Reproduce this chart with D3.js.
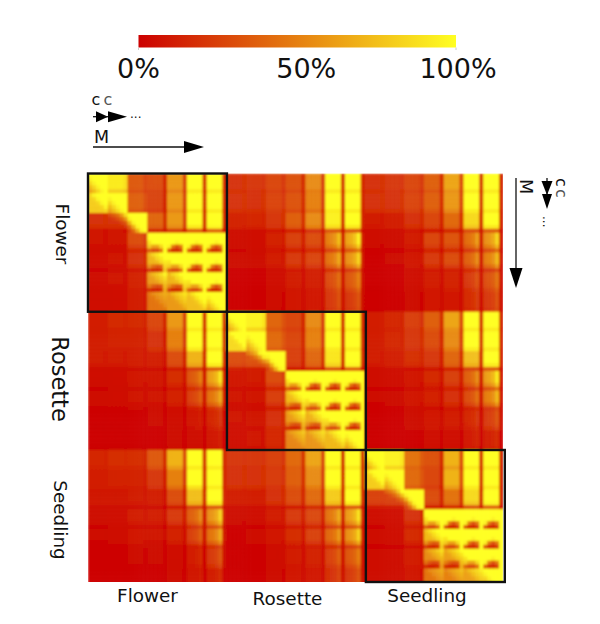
<!DOCTYPE html>
<html>
<head>
<meta charset="utf-8">
<script src="https://cdn.jsdelivr.net/npm/d3@7/dist/d3.min.js"></script>
<style>
  html, body { margin: 0; padding: 0; background: #fff; }
  text { font-family: "DejaVu Sans", sans-serif; fill: #111; }
</style>
</head>
<body>
<div id="vis"></div>
<script>
// DATA
const groups = ["Flower", "Rosette", "Seedling"];
const legendTicks = [0, 50, 100];

// colour level of each 7x7 tile (row group / column group)
const flowerFlower = [
  [1.05, .92, .35, .30, .60, 1.05, 1.05],
  [.80, 1.05, .38, .26, .60, 1.05, 1.05],
  [.20, .20, 1.05, .40, .60, 1.00, 1.05],
  [.07, .08, .30, 1.05, 1.05, 1.05, 1.05],
  [.06, .07, .20, .70, 1.05, 1.05, 1.05],
  [.06, .07, .14, .60, .70, 1.05, 1.05],
  [.06, .06, .12, .45, .60, .75, 1.05]
];
const flowerRosette = [
  [.20, .22, .28, .32, .55, 1.05, 1.05],
  [.20, .20, .27, .33, .50, 1.05, 1.05],
  [.14, .15, .22, .38, .55, .95, 1.00],
  [.05, .06, .14, .26, .30, .62, .80],
  [.04, .04, .11, .23, .27, .55, .70],
  [.02, .02, .05, .11, .12, .36, .42],
  [.01, .02, .03, .09, .09, .27, .28]
];
const flowerSeedling = [
  [.20, .22, .28, .38, .65, 1.05, 1.05],
  [.20, .20, .27, .38, .60, 1.05, 1.05],
  [.10, .12, .20, .28, .42, .85, 1.00],
  [.03, .04, .11, .28, .33, .52, .70],
  [.02, .03, .09, .23, .30, .46, .60],
  [.01, .02, .05, .12, .14, .27, .38],
  [.01, .01, .03, .09, .09, .20, .27]
];
const rosetteFlower = [
  [.12, .16, .16, .28, .60, 1.05, 1.05],
  [.12, .14, .14, .20, .50, 1.05, 1.05],
  [.10, .10, .12, .12, .30, .70, 1.00],
  [.05, .06, .09, .09, .18, .42, .76],
  [.04, .05, .07, .07, .14, .32, .56],
  [.01, .01, .02, .03, .05, .10, .18],
  [.01, .01, .01, .02, .03, .05, .10]
];
const rosetteRosette = [
  [1.05, .95, .40, .28, .55, 1.05, 1.05],
  [.85, 1.05, .42, .28, .50, 1.05, 1.05],
  [.30, .32, 1.05, .25, .40, .90, 1.05],
  [.09, .10, .30, 1.05, 1.05, 1.05, 1.05],
  [.07, .08, .25, .72, 1.05, 1.05, 1.05],
  [.07, .08, .20, .60, .68, 1.05, 1.05],
  [.06, .07, .15, .52, .58, .72, 1.05]
];
const rosetteSeedling = [
  [.12, .15, .25, .38, .65, 1.05, 1.05],
  [.12, .15, .22, .30, .55, 1.05, 1.05],
  [.10, .12, .18, .22, .40, .75, 1.00],
  [.04, .05, .09, .16, .26, .46, .76],
  [.03, .04, .09, .14, .20, .37, .60],
  [.01, .02, .04, .09, .11, .18, .28],
  [.01, .01, .02, .05, .06, .11, .14]
];
const seedlingFlower = [
  [.15, .18, .18, .35, .70, 1.05, 1.05],
  [.12, .14, .14, .22, .50, 1.00, 1.05],
  [.08, .08, .10, .12, .30, .75, 1.00],
  [.04, .06, .11, .11, .23, .46, .70],
  [.03, .04, .09, .07, .13, .32, .56],
  [.02, .02, .03, .03, .05, .14, .28],
  [.01, .01, .02, .02, .03, .09, .14]
];
const seedlingRosette = [
  [.22, .22, .26, .42, .65, 1.05, 1.05],
  [.20, .20, .24, .38, .55, 1.05, 1.05],
  [.12, .12, .20, .30, .42, .80, 1.00],
  [.03, .05, .11, .23, .28, .56, .75],
  [.02, .04, .09, .18, .26, .50, .70],
  [.01, .02, .05, .11, .13, .32, .42],
  [.01, .02, .03, .09, .09, .23, .28]
];
const seedlingSeedling = [
  [1.05, .95, .45, .32, .70, 1.05, 1.05],
  [.80, 1.05, .42, .28, .70, 1.05, 1.05],
  [.26, .26, 1.05, .30, .45, .85, 1.05],
  [.05, .06, .20, 1.05, 1.05, 1.05, 1.05],
  [.04, .05, .16, .72, 1.05, 1.05, 1.05],
  [.04, .05, .12, .55, .62, 1.05, 1.05],
  [.04, .04, .08, .45, .50, .62, 1.05]
];
const blocks = [
  [flowerFlower, flowerRosette, flowerSeedling],
  [rosetteFlower, rosetteRosette, rosetteSeedling],
  [seedlingFlower, seedlingRosette, seedlingSeedling]
];

// how dark the edge sub-cells of each tile get, by tile column and tile row
const colEdge = [.95, .95, .8, .45, .4, .14, .14];
const rowEdge = [.88, .88, .35, .5, .4, .8, .9];
const rowEdgeInner = [1, 1, .92, .85, .8, .97, 1];
// brighter towards the right inside the yellow columns of the lower rows
const rightRamp = [.8, .85, .95, 1.2, 1];

// 5x5 patterns seen inside the tiles of the diagonal blocks
const triSoft = [
  [1, 1, 1, 1, 1],
  [.9, 1, 1, 1, 1],
  [.8, .9, 1, 1, 1],
  [.7, .8, .9, 1, 1],
  [.6, .7, .8, .9, 1]
];
const triSharp = [
  [1, 1, 1, 1, 1],
  [.9, 1, 1, 1, 1],
  [.65, .9, 1, 1, 1],
  [.4, .65, .9, 1, 1],
  [.25, .4, .65, .9, 1]
];
const triWedge = [
  [1, 1, 1, 1, 1],
  [.95, 1, 1, 1, 1],
  [.85, .95, 1, 1, 1],
  [.75, .6, .6, .8, 1],
  [.35, .25, .25, .4, .95]
];
const wedge = [
  [1, 1, 1, 1, 1],
  [1, 1, 1, 1, 1],
  [1, 1, .9, 1, 1],
  [.9, .45, .3, .45, 1],
  [.3, .12, .12, .2, .95]
];
const below = [
  [1.05, 1.2, 1.3, 1.4, 1.5],
  [1, 1.05, 1.2, 1.3, 1.4],
  [1, 1, 1.05, 1.2, 1.3],
  [1, 1, 1, 1.05, 1.2],
  [1, 1, 1, 1, 1.05]
];
const belowWedge = [
  [1.05, 1.2, 1.3, 1.45, 1.6],
  [1, 1.05, 1.2, 1.3, 1.45],
  [1, 1, 1.05, 1.2, 1.3],
  [.8, .6, .5, .55, 1.2],
  [.3, .18, .18, .25, 1.1]
];
const corner = [
  [1.5, 1.8, 2.2, 3, 4.5],
  [1, 1.2, 1.5, 2, 3],
  [1, 1, 1, 1.3, 1.8],
  [1, 1, 1, 1, 1.2],
  [1, 1, 1, 1, 1]
];
// which pattern each tile of a diagonal block uses, null means plain tile with dark edges
const diagonalKinds = [
  [triSoft, null, null, null, null, null, null],
  [below, triSoft, null, null, null, null, null],
  [null, corner, triSharp, null, null, null, null],
  [null, null, null, triWedge, wedge, wedge, wedge],
  [null, null, null, belowWedge, triWedge, wedge, wedge],
  [null, null, null, belowWedge, belowWedge, triWedge, wedge],
  [null, null, null, below, below, below, triSoft]
];

const subCells = 5;
const tiles = 7;

// SCALES
const width = 600, height = 624;
const plotBottom = 582;
const total = groups.length * tiles * subCells;

const x = d3.scaleBand().domain(d3.range(total)).range([88, 503]);
const y = d3.scaleBand().domain(d3.range(total)).range([173.5, 588.25]);
const color = d3.scaleLinear().domain([0, 1]).range(["#cc0000", "#ffff22"]).clamp(true);
const legendX = d3.scaleLinear().domain([0, 100]).range([138.5, 456]);

// flatten tiles into sub-cells
const cells = [];
groups.forEach(function (rowName, gr) {
  groups.forEach(function (colName, gc) {
    const block = blocks[gr][gc];
    d3.range(tiles).forEach(function (r) {
      d3.range(tiles).forEach(function (c) {
        const kind = gr === gc ? diagonalKinds[r][c] : null;
        d3.range(subCells).forEach(function (i) {
          d3.range(subCells).forEach(function (j) {
            let v = block[r][c];
            if (kind) {
              v *= kind[i][j];
            }
            if (!kind || kind === corner) {
              if (gr !== gc && r >= 3 && c >= 5) v *= rightRamp[j];
              if (j === subCells - 1) v *= colEdge[c];
              if (i === subCells - 1) v *= rowEdge[r];
              if (i === subCells - 2) v *= rowEdgeInner[r];
            }
            cells.push({
              row: (gr * tiles + r) * subCells + i,
              col: (gc * tiles + c) * subCells + j,
              value: v
            });
          });
        });
      });
    });
  });
});

// DRAW
const svg = d3.select("#vis").append("svg")
  .attr("width", width)
  .attr("height", height)
  .style("display", "block");

const defs = svg.append("defs");
defs.append("clipPath").attr("id", "plotClip").append("rect")
  .attr("x", x.range()[0])
  .attr("y", y.range()[0])
  .attr("width", x.range()[1] - x.range()[0])
  .attr("height", plotBottom - y.range()[0]);
const blur = defs.append("filter").attr("id", "soft")
  .attr("x", "-2%").attr("y", "-2%").attr("width", "104%").attr("height", "104%");
blur.append("feGaussianBlur").attr("stdDeviation", 0.8);

const gradient = defs.append("linearGradient").attr("id", "legendFill");
gradient.selectAll("stop").data([0, 1]).enter().append("stop")
  .attr("offset", function (d) { return d * 100 + "%"; })
  .attr("stop-color", function (d) { return color(d); });

// heatmap
svg.append("g").attr("clip-path", "url(#plotClip)")
  .append("g").attr("filter", "url(#soft)")
  .selectAll("rect").data(cells).enter().append("rect")
  .attr("x", function (d) { return x(d.col); })
  .attr("y", function (d) { return y(d.row); })
  .attr("width", x.bandwidth() + 0.5)
  .attr("height", y.bandwidth() + 0.5)
  .attr("fill", function (d) { return color(d.value); });

// frames round the diagonal blocks
const blockSize = tiles * subCells;
svg.append("g").selectAll("rect").data(groups).enter().append("rect")
  .attr("x", function (d, i) { return x(i * blockSize) + i * 0.6; })
  .attr("y", function (d, i) { return y(i * blockSize); })
  .attr("width", blockSize * x.step() + 0.6)
  .attr("height", function (d, i) {
    return Math.min(blockSize * y.step(), plotBottom - y(i * blockSize));
  })
  .attr("fill", "none")
  .attr("stroke", "#111")
  .attr("stroke-width", 2.4);

// legend
svg.append("rect")
  .attr("x", legendX(0))
  .attr("y", 35)
  .attr("width", legendX(100) - legendX(0))
  .attr("height", 12.5)
  .attr("fill", "url(#legendFill)");

svg.append("g").selectAll("line").data([0, 100]).enter().append("line")
  .attr("x1", function (d) { return legendX(d); })
  .attr("x2", function (d) { return legendX(d); })
  .attr("y1", 47.5)
  .attr("y2", 50)
  .attr("stroke", "#ccc");

svg.append("g").selectAll("text").data(legendTicks).enter().append("text")
  .attr("x", function (d) { return legendX(d) + (d === 50 ? 9 : 2 * d / 100); })
  .attr("y", 78)
  .attr("text-anchor", "middle")
  .attr("font-size", 27)
  .text(function (d) { return d + "%"; });

// group labels
const bottomLabels = [[147.5, 602], [287.5, 605], [427, 602]];
svg.append("g").selectAll("text").data(groups).enter().append("text")
  .attr("x", function (d, i) { return bottomLabels[i][0]; })
  .attr("y", function (d, i) { return bottomLabels[i][1]; })
  .attr("text-anchor", "middle")
  .attr("font-size", 18.4)
  .text(function (d) { return d; });

const leftLabels = [[56, 234, 18.4], [52, 379, 22.5], [54, 520, 18.4]];
svg.append("g").selectAll("text").data(groups).enter().append("text")
  .attr("transform", function (d, i) {
    return "translate(" + leftLabels[i][0] + "," + leftLabels[i][1] + ") rotate(90)";
  })
  .attr("text-anchor", "middle")
  .attr("font-size", function (d, i) { return leftLabels[i][2]; })
  .text(function (d) { return d; });

// reading direction arrows
function arrow(x1, y1, x2, y2, headLength, headHalf) {
  const a = Math.atan2(y2 - y1, x2 - x1);
  const cos = Math.cos(a), sin = Math.sin(a);
  const bx = x2 - cos * headLength, by = y2 - sin * headLength;
  svg.append("line")
    .attr("x1", x1).attr("y1", y1).attr("x2", bx).attr("y2", by)
    .attr("stroke", "#111").attr("stroke-width", 1.3);
  svg.append("path")
    .attr("d", d3.line()([[x2, y2], [bx - sin * headHalf, by + cos * headHalf], [bx + sin * headHalf, by - cos * headHalf]]) + "Z")
    .attr("fill", "#000");
}

arrow(93, 116.7, 108, 116.7, 12, 5.5);
arrow(104, 116.7, 127, 116.7, 19, 5.5);
arrow(93, 147, 204, 147, 20, 6);
arrow(516, 178, 516, 288, 20, 6.5);
arrow(547, 178, 547, 195, 14, 5.5);
arrow(547, 190, 547, 209, 15, 5);

function label(txt, tx, ty, size, rotated, weight, fill) {
  svg.append("text")
    .attr("transform", "translate(" + tx + "," + ty + ")" + (rotated ? " rotate(90)" : ""))
    .attr("font-size", size)
    .attr("font-weight", weight || "normal")
    .style("fill", fill || "#111")
    .text(txt);
}

label("c", 91.5, 105, 16, false, "normal");
label("c", 103.5, 105, 16, false, "normal", "#555");
label("...", 130, 118, 12, false, "normal");
label("M", 94, 143, 17.5, false, "normal");
label("M", 520, 179, 17.5, true, "normal");
label("c", 556, 178, 16, true, "normal");
label("c", 556, 189, 16, true, "normal", "#555");
label("...", 543, 216, 12, true, "normal");
</script>
</body>
</html>
